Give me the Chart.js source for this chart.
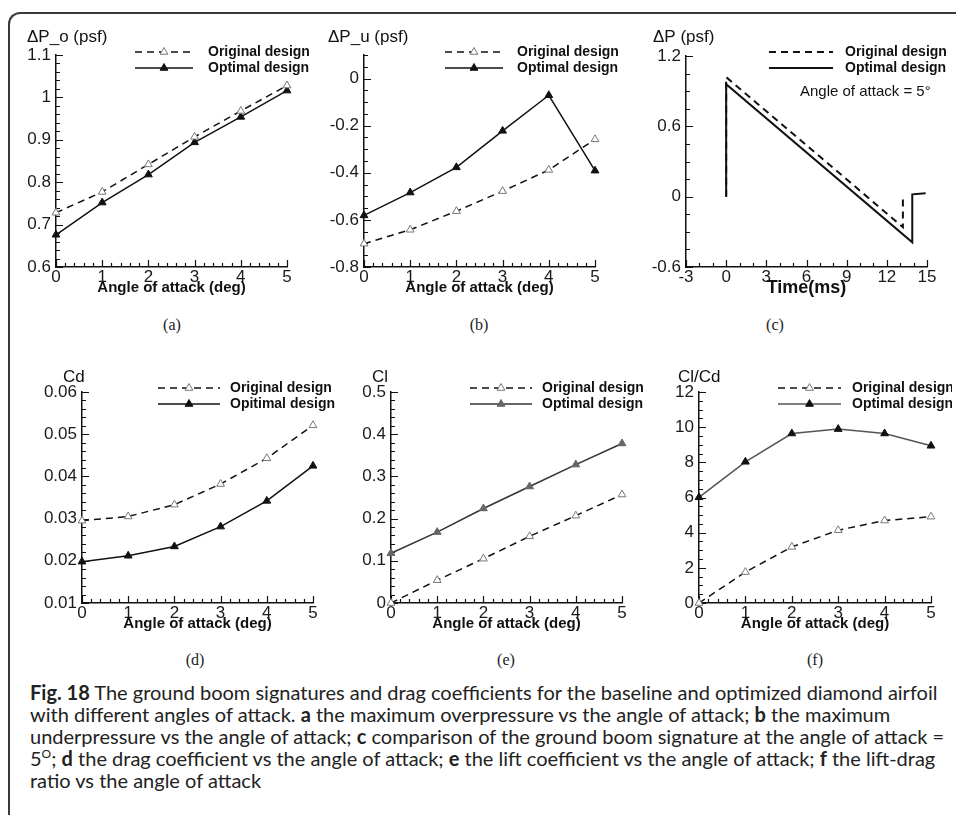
<!DOCTYPE html>
<html>
<head>
<meta charset="utf-8">
<script src="https://cdn.jsdelivr.net/npm/chart.js@4.4.1/dist/chart.umd.min.js"></script>
<style>
body { margin: 0; background: #fff; width: 956px; height: 815px; overflow: hidden; position: relative; }
.frame { position: absolute; left: 8px; top: 12px; width: 990px; height: 840px; border-top: 2px solid #3a3a3a; border-left: 2px solid #3a3a3a; border-top-left-radius: 12px; }
.panel { position: absolute; }
.sub { position: absolute; font-family: "Liberation Serif", serif; font-size: 16px; color: #222; transform: translate(-50%, -50%); }
.caption { position: absolute; left: 30px; top: 681px; font-family: Lato, "Open Sans", sans-serif; font-size: 20px; line-height: 22px; white-space: nowrap; color: #222; }
.caption sup { font-size: 12px; line-height: 0; }
</style>
</head>
<body>
<div class="frame"></div>
<div class="sub" style="left:172px;top:325px">(a)</div>
<div class="sub" style="left:479px;top:325px">(b)</div>
<div class="sub" style="left:775px;top:325px">(c)</div>
<div class="sub" style="left:195px;top:660px">(d)</div>
<div class="sub" style="left:506px;top:660px">(e)</div>
<div class="sub" style="left:815px;top:660px">(f)</div>
<div class="caption">
<div><b>Fig. 18</b> The ground boom signatures and drag coefficients for the baseline and optimized diamond airfoil</div>
<div>with different angles of attack. <b>a</b> the maximum overpressure vs the angle of attack; <b>b</b> the maximum</div>
<div>underpressure vs the angle of attack; <b>c</b> comparison of the ground boom signature at the angle of attack =</div>
<div>5<sup>O</sup>; <b>d</b> the drag coefficient vs the angle of attack; <b>e</b> the lift coefficient vs the angle of attack; <b>f</b> the lift-drag</div>
<div>ratio vs the angle of attack</div>
</div>
<script>
// angle of attack (deg)
const angles = [0, 1, 2, 3, 4, 5];
// (a) max overpressure, psf
const overOriginal = [0.728, 0.777, 0.842, 0.907, 0.968, 1.028];
const overOptimal = [0.676, 0.752, 0.818, 0.894, 0.954, 1.016];
// (b) max underpressure, psf
const underOriginal = [-0.701, -0.642, -0.563, -0.478, -0.388, -0.258];
const underOptimal = [-0.581, -0.484, -0.377, -0.222, -0.071, -0.391];
// (c) ground signature at 5 deg
const sigTimeOriginal = [0, 0, 13.2, 13.2];
const sigOriginal = [0, 1.02, -0.26, 0.01];
const sigTimeOptimal = [0, 0, 13.9, 13.9, 14.9];
const sigOptimal = [0, 0.96, -0.39, 0.02, 0.03];
// (d) drag coefficient
const cdOriginal = [0.0295, 0.0305, 0.0333, 0.0382, 0.0443, 0.0521];
const cdOptimal = [0.0198, 0.0212, 0.0234, 0.0281, 0.0342, 0.0425];
// (e) lift coefficient
const clOriginal = [0, 0.054, 0.105, 0.158, 0.207, 0.257];
const clOptimal = [0.118, 0.168, 0.224, 0.276, 0.328, 0.378];
// (f) lift-drag ratio
const ldOriginal = [0, 1.76, 3.19, 4.14, 4.69, 4.91];
const ldOptimal = [6.01, 8.03, 9.64, 9.89, 9.64, 8.94];

// tick labels
const aoaTicks = [0, 1, 2, 3, 4, 5];
const ticksA = [0.6, 0.7, 0.8, 0.9, 1, 1.1];
const ticksB = [-0.8, -0.6, -0.4, -0.2, 0];
const timeTicks = [-3, 0, 3, 6, 9, 12, 15];
const ticksC = [-0.6, 0, 0.6, 1.2];
const ticksD = [0.01, 0.02, 0.03, 0.04, 0.05, 0.06];
const ticksE = [0, 0.1, 0.2, 0.3, 0.4, 0.5];
const ticksF = [0, 2, 4, 6, 8, 10, 12];

const SANS = '"Liberation Sans", Arial, sans-serif';
const INK = '#111';

function pts(xs, ys) {
    return xs.map((x, i) => ({ x: x, y: ys[i] }));
}

function original(data, label) {
    return {
        label: label || 'Original design', data: data,
        borderColor: INK, borderWidth: 1.5, borderDash: [7, 5],
        pointStyle: 'triangle', pointRadius: 4.5, pointBackgroundColor: '#fff',
        pointBorderColor: '#777', pointBorderWidth: 1, clip: false
    };
}
function optimal(data, label, line, mark) {
    return {
        label: label || 'Optimal design', data: data,
        borderColor: line || INK, borderWidth: 1.5,
        pointStyle: 'triangle', pointRadius: 4.5, pointBackgroundColor: mark || INK,
        pointBorderColor: mark || INK, pointBorderWidth: 1, clip: false
    };
}

// inward major/minor tick marks, tecplot style
const inTicks = {
    id: 'inTicks',
    beforeDatasetsDraw(chart, args, o) {
        const ctx = chart.ctx, a = chart.chartArea, x = chart.scales.x, y = chart.scales.y;
        const marks = (scale, minor) => {
            const out = scale.ticks.map(t => [t.value, 7]);
            const n = Math.round((scale.max - scale.min) / minor);
            for (let i = 0; i <= n; i++) {
                const v = scale.min + i * minor;
                if (!scale.ticks.some(t => Math.abs(t.value - v) < minor / 10)) out.push([v, 4]);
            }
            return out;
        };
        ctx.save();
        ctx.strokeStyle = INK;
        ctx.lineWidth = 1.2;
        ctx.beginPath();
        marks(x, o.xMinor).forEach(m => {
            const px = Math.round(x.getPixelForValue(m[0])) + 0.5;
            ctx.moveTo(px, a.bottom);
            ctx.lineTo(px, a.bottom - m[1]);
        });
        marks(y, o.yMinor).forEach(m => {
            const py = Math.round(y.getPixelForValue(m[0])) + 0.5;
            ctx.moveTo(a.left, py);
            ctx.lineTo(a.left + m[1], py);
        });
        ctx.stroke();
        ctx.restore();
    }
};

// corner title and the line-sample legend
const panelText = {
    id: 'panelText',
    afterDraw(chart, args, o) {
        const ctx = chart.ctx;
        ctx.save();
        ctx.textAlign = 'left';
        ctx.textBaseline = 'middle';
        ctx.fillStyle = INK;
        ctx.font = '17px ' + SANS;
        ctx.fillText(o.title, o.titleX, o.titleY);
        chart.data.datasets.forEach((ds, i) => {
            const y = o.rowY[i];
            ctx.beginPath();
            ctx.setLineDash(ds.borderDash || []);
            ctx.lineWidth = ds.borderWidth;
            ctx.strokeStyle = ds.borderColor;
            ctx.moveTo(o.lineX0, y);
            ctx.lineTo(o.lineX1, y);
            ctx.stroke();
            ctx.setLineDash([]);
            if (ds.pointRadius > 0) {
                ctx.fillStyle = ds.pointBackgroundColor;
                ctx.strokeStyle = ds.pointBorderColor;
                ctx.lineWidth = 1;
                Chart.helpers.drawPoint(ctx, { pointStyle: 'triangle', radius: ds.pointRadius, borderWidth: 1, rotation: 0 }, (o.lineX0 + o.lineX1) / 2, y);
            }
            ctx.fillStyle = INK;
            ctx.font = 'bold 14px ' + SANS;
            ctx.fillText(ds.label, o.textX, y);
        });
        if (o.note) {
            ctx.font = '15px ' + SANS;
            ctx.fillText(o.note, o.noteX, o.noteY);
        }
        ctx.restore();
    }
};

function makePanel(p) {
    const div = document.createElement('div');
    div.className = 'panel';
    div.style.left = p.box[0] + 'px';
    div.style.top = p.box[1] + 'px';
    const cv = document.createElement('canvas');
    cv.width = p.box[2];
    cv.height = p.box[3];
    div.appendChild(cv);
    document.body.appendChild(div);

    const bx = p.box[0], by = p.box[1];
    const yW = p.area[0] - bx;
    const padTop = p.area[1] - by;
    const padRight = bx + p.box[2] - p.area[2];
    const padBottom = by + p.box[3] - p.area[3] - p.xH;
    const lg = p.legend;

    return new Chart(cv, {
        type: 'line',
        data: { datasets: p.datasets },
        options: {
            responsive: false,
            animation: false,
            layout: { padding: { left: 0, top: padTop, right: padRight, bottom: padBottom } },
            plugins: {
                legend: { display: false },
                tooltip: { enabled: false },
                inTicks: { xMinor: p.xMinor, yMinor: p.yMinor },
                panelText: {
                    title: p.title, titleX: p.titlePos[0] - bx, titleY: p.titlePos[1] - by,
                    lineX0: lg.line[0] - bx, lineX1: lg.line[1] - bx, textX: lg.text - bx,
                    rowY: lg.rows.map(r => r - by),
                    note: p.note, noteX: p.note ? p.notePos[0] - bx : 0, noteY: p.note ? p.notePos[1] - by : 0
                }
            },
            scales: {
                x: {
                    type: 'linear', min: p.xRange[0], max: p.xRange[1],
                    afterBuildTicks: s => { s.ticks = p.xTicks.map(v => ({ value: v })); },
                    afterFit: s => { s.height = p.xH; },
                    grid: { drawOnChartArea: false, drawTicks: false },
                    border: { color: INK, width: 1.5 },
                    ticks: { padding: 0, autoSkip: false, maxRotation: 0, color: '#1a1a1a', font: { family: SANS, size: 17 }, callback: v => String(v) },
                    title: { display: true, text: p.xTitle, color: INK, padding: 0, font: { family: SANS, size: p.xTitleSize, weight: 'bold' } }
                },
                y: {
                    type: 'linear', min: p.yRange[0], max: p.yRange[1],
                    afterBuildTicks: s => { s.ticks = p.yTicks.map(v => ({ value: v })); },
                    afterFit: s => { s.width = yW; },
                    grid: { drawOnChartArea: false, drawTicks: false },
                    border: { color: INK, width: 1.5 },
                    ticks: { padding: 5, autoSkip: false, color: '#1a1a1a', font: { family: SANS, size: 17 }, callback: v => String(v) }
                }
            }
        },
        plugins: [inTicks, panelText]
    });
}

const AOA = 'Angle of attack (deg)';

makePanel({
    box: [10, 20, 304, 285], area: [56, 55, 287, 267], xH: 30,
    xRange: [0, 5], yRange: [0.6, 1.1], xTicks: aoaTicks, yTicks: ticksA, xMinor: 0.2, yMinor: 0.02,
    xTitle: AOA, xTitleSize: 15, title: '\u0394P_o (psf)', titlePos: [27, 37],
    legend: { line: [135, 193], text: 208, rows: [52, 68] },
    datasets: [original(pts(angles, overOriginal)), optimal(pts(angles, overOptimal))]
});

makePanel({
    box: [318, 20, 300, 285], area: [364, 55, 595, 267], xH: 30,
    xRange: [0, 5], yRange: [-0.8, 0.1], xTicks: aoaTicks, yTicks: ticksB, xMinor: 0.2, yMinor: 0.05,
    xTitle: AOA, xTitleSize: 15, title: '\u0394P_u (psf)', titlePos: [328, 37],
    legend: { line: [445, 503], text: 517, rows: [52, 68] },
    datasets: [original(pts(angles, underOriginal)), optimal(pts(angles, underOptimal))]
});

const sigOrig = original(pts(sigTimeOriginal, sigOriginal));
sigOrig.pointRadius = 0;
sigOrig.borderWidth = 2;
const sigOpt = optimal(pts(sigTimeOptimal, sigOptimal));
sigOpt.pointRadius = 0;
sigOpt.borderWidth = 2;
makePanel({
    box: [636, 20, 316, 285], area: [686, 56, 927, 267], xH: 32,
    xRange: [-3, 15], yRange: [-0.6, 1.2], xTicks: timeTicks, yTicks: ticksC, xMinor: 1, yMinor: 0.15,
    xTitle: 'Time(ms)', xTitleSize: 18, title: '\u0394P (psf)', titlePos: [653, 37],
    legend: { line: [769, 833], text: 845, rows: [52, 68] },
    note: 'Angle of attack = 5\u00b0', notePos: [800, 92],
    datasets: [sigOrig, sigOpt]
});

makePanel({
    box: [30, 355, 310, 285], area: [82, 392, 313, 603], xH: 30,
    xRange: [0, 5], yRange: [0.01, 0.06], xTicks: aoaTicks, yTicks: ticksD, xMinor: 0.2, yMinor: 0.002,
    xTitle: AOA, xTitleSize: 15, title: 'Cd', titlePos: [63, 377],
    legend: { line: [158, 220], text: 230, rows: [388, 404] },
    datasets: [original(pts(angles, cdOriginal)), optimal(pts(angles, cdOptimal), 'Opitimal design')]
});

makePanel({
    box: [345, 355, 300, 285], area: [391, 392, 622, 603], xH: 30,
    xRange: [0, 5], yRange: [0, 0.5], xTicks: aoaTicks, yTicks: ticksE, xMinor: 0.2, yMinor: 0.02,
    xTitle: AOA, xTitleSize: 15, title: 'Cl', titlePos: [372, 377],
    legend: { line: [470, 532], text: 542, rows: [388, 404] },
    datasets: [original(pts(angles, clOriginal)), optimal(pts(angles, clOptimal), null, '#333', '#666')]
});

makePanel({
    box: [652, 355, 300, 285], area: [699, 392, 931, 603], xH: 30,
    xRange: [0, 5], yRange: [0, 12], xTicks: aoaTicks, yTicks: ticksF, xMinor: 0.2, yMinor: 0.5,
    xTitle: AOA, xTitleSize: 15, title: 'Cl/Cd', titlePos: [678, 377],
    legend: { line: [778, 841], text: 852, rows: [388, 404] },
    datasets: [original(pts(angles, ldOriginal)), optimal(pts(angles, ldOptimal), null, '#555', INK)]
});
</script>
</body>
</html>
